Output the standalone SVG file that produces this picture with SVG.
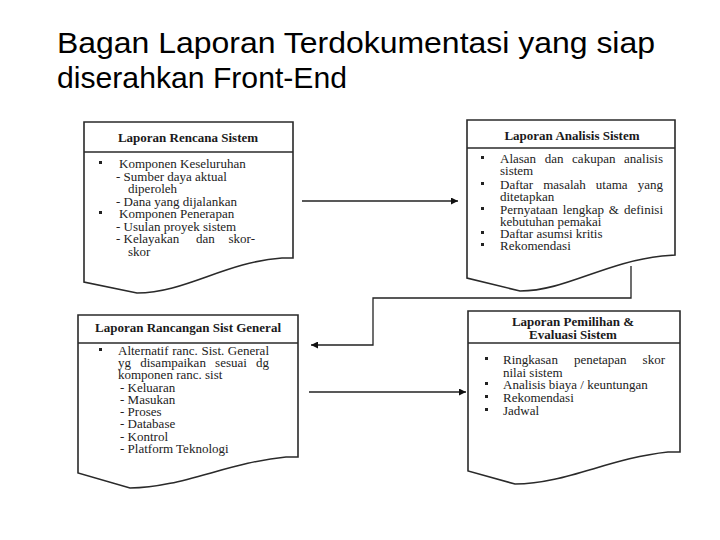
<svg xmlns="http://www.w3.org/2000/svg" width="720" height="540" viewBox="0 0 720 540">
<defs>
<marker id="ah" viewBox="0 0 10 10" refX="10" refY="5" markerWidth="9" markerHeight="7" markerUnits="userSpaceOnUse" orient="auto">
<path d="M0,0 L10,5 L0,10 Z" fill="#111"/>
</marker>
<style>
.title{font-family:"Liberation Sans",Arial,sans-serif;font-size:30px;fill:#000}
.box{fill:#fff;stroke:#2a2a2a;stroke-width:1.6}
.div{stroke:#2a2a2a;stroke-width:1.4}
.hd{font-family:"Liberation Serif","Times New Roman",serif;font-size:13px;font-weight:bold;fill:#1a1a1a;text-anchor:middle}
.tx{font-family:"Liberation Serif","Times New Roman",serif;font-size:13px;fill:#222}
.e{text-anchor:end}
.bl{fill:#222}
.conn{fill:none;stroke:#222;stroke-width:1.3}
</style>
</defs>
<rect width="720" height="540" fill="#fff"/>
<text class="title" x="57" y="53" textLength="598" lengthAdjust="spacingAndGlyphs">Bagan Laporan Terdokumentasi yang siap</text>
<text class="title" x="57" y="88" textLength="290" lengthAdjust="spacingAndGlyphs">diserahkan Front-End</text>

<g id="connectors">
<path class="conn" d="M302,201 H458" marker-end="url(#ah)"/>
<path class="conn" d="M631,266 V298 H373 V345 H311" marker-end="url(#ah)"/>
<path class="conn" d="M309,392 H466" marker-end="url(#ah)"/>
</g>

<g id="rencana">
<path class="box" d="M84,122 H293 V258 L282,258 C225,262 185,293 137,293 L84,282 Z"/>
<line class="div" x1="84" y1="152" x2="293" y2="152"/>
<text class="hd" x="188" y="142">Laporan Rencana Sistem</text>
<rect class="bl" x="99" y="161" width="3" height="3"/>
<text class="tx" x="119" y="168">Komponen Keseluruhan</text>
<text class="tx" x="116" y="181">- Sumber daya aktual</text>
<text class="tx" x="128" y="193">diperoleh</text>
<text class="tx" x="116" y="206">- Dana yang dijalankan</text>
<rect class="bl" x="99" y="211" width="3" height="3"/>
<text class="tx" x="119" y="218">Komponen Penerapan</text>
<text class="tx" x="116" y="231">- Usulan proyek sistem</text>
<text class="tx" x="116" y="243">- Kelayakan</text>
<text class="tx" x="196" y="243">dan</text>
<text class="tx e" x="255" y="243">skor-</text>
<text class="tx" x="128" y="256">skor</text>
</g>

<g id="analisis">
<path class="box" d="M467,120 H675 V255 L662,256 C605,262 565,291 520,291 L467,278 Z"/>
<line class="div" x1="467" y1="148" x2="675" y2="148"/>
<text class="hd" x="572" y="140">Laporan Analisis Sistem</text>
<rect class="bl" x="481" y="156" width="3" height="3"/>
<text class="tx" x="500" y="163">Alasan</text>
<text class="tx" x="544.7" y="163">dan</text>
<text class="tx" x="572.1" y="163">cakupan</text>
<text class="tx e" x="663" y="163">analisis</text>
<text class="tx" x="500" y="175">sistem</text>
<rect class="bl" x="481" y="182" width="3" height="3"/>
<text class="tx" x="500" y="189">Daftar</text>
<text class="tx" x="543.2" y="189">masalah</text>
<text class="tx" x="595.8" y="189">utama</text>
<text class="tx e" x="663" y="189">yang</text>
<text class="tx" x="500" y="201">ditetapkan</text>
<rect class="bl" x="481" y="207" width="3" height="3"/>
<text class="tx" x="500" y="214">Pernyataan</text>
<text class="tx" x="562.8" y="214">lengkap</text>
<text class="tx" x="608.8" y="214">&amp;</text>
<text class="tx e" x="663" y="214">definisi</text>
<text class="tx" x="500" y="226">kebutuhan pemakai</text>
<rect class="bl" x="481" y="231" width="3" height="3"/>
<text class="tx" x="500" y="238">Daftar asumsi kritis</text>
<rect class="bl" x="481" y="243" width="3" height="3"/>
<text class="tx" x="500" y="250">Rekomendasi</text>
</g>

<g id="rancangan">
<path class="box" d="M78,315 H298 V457 L286,457 C230,462 180,488 130,488 L78,473 Z"/>
<line class="div" x1="78" y1="343" x2="298" y2="343"/>
<text class="hd" x="188" y="332">Laporan Rancangan Sist General</text>
<rect class="bl" x="99" y="348" width="3" height="3"/>
<text class="tx" x="118" y="355">Alternatif</text>
<text class="tx" x="172.2" y="355">ranc.</text>
<text class="tx" x="201.5" y="355">Sist.</text>
<text class="tx e" x="269" y="355">General</text>
<text class="tx" x="118" y="367">yg</text>
<text class="tx" x="140.2" y="367">disampaikan</text>
<text class="tx" x="215.1" y="367">sesuai</text>
<text class="tx e" x="269" y="367">dg</text>
<text class="tx" x="118" y="379">komponen ranc. sist</text>
<text class="tx" x="120" y="392">- Keluaran</text>
<text class="tx" x="120" y="404">- Masukan</text>
<text class="tx" x="120" y="416">- Proses</text>
<text class="tx" x="120" y="428">- Database</text>
<text class="tx" x="120" y="441">- Kontrol</text>
<text class="tx" x="120" y="453">- Platform Teknologi</text>
</g>

<g id="pemilihan">
<path class="box" d="M468,311 H680 V452 L668,452 C610,458 565,484 515,484 L468,471 Z"/>
<line class="div" x1="468" y1="343" x2="680" y2="343"/>
<text class="hd" x="573" y="326">Laporan Pemilihan &amp;</text>
<text class="hd" x="573" y="339">Evaluasi Sistem</text>
<rect class="bl" x="485" y="357" width="3" height="3"/>
<text class="tx" x="503" y="364">Ringkasan</text>
<text class="tx" x="573.9" y="364">penetapan</text>
<text class="tx e" x="665" y="364">skor</text>
<text class="tx" x="503" y="377">nilai sistem</text>
<rect class="bl" x="485" y="382" width="3" height="3"/>
<text class="tx" x="503" y="389">Analisis biaya / keuntungan</text>
<rect class="bl" x="485" y="395" width="3" height="3"/>
<text class="tx" x="503" y="402">Rekomendasi</text>
<rect class="bl" x="485" y="408" width="3" height="3"/>
<text class="tx" x="503" y="415">Jadwal</text>
</g>
</svg>
